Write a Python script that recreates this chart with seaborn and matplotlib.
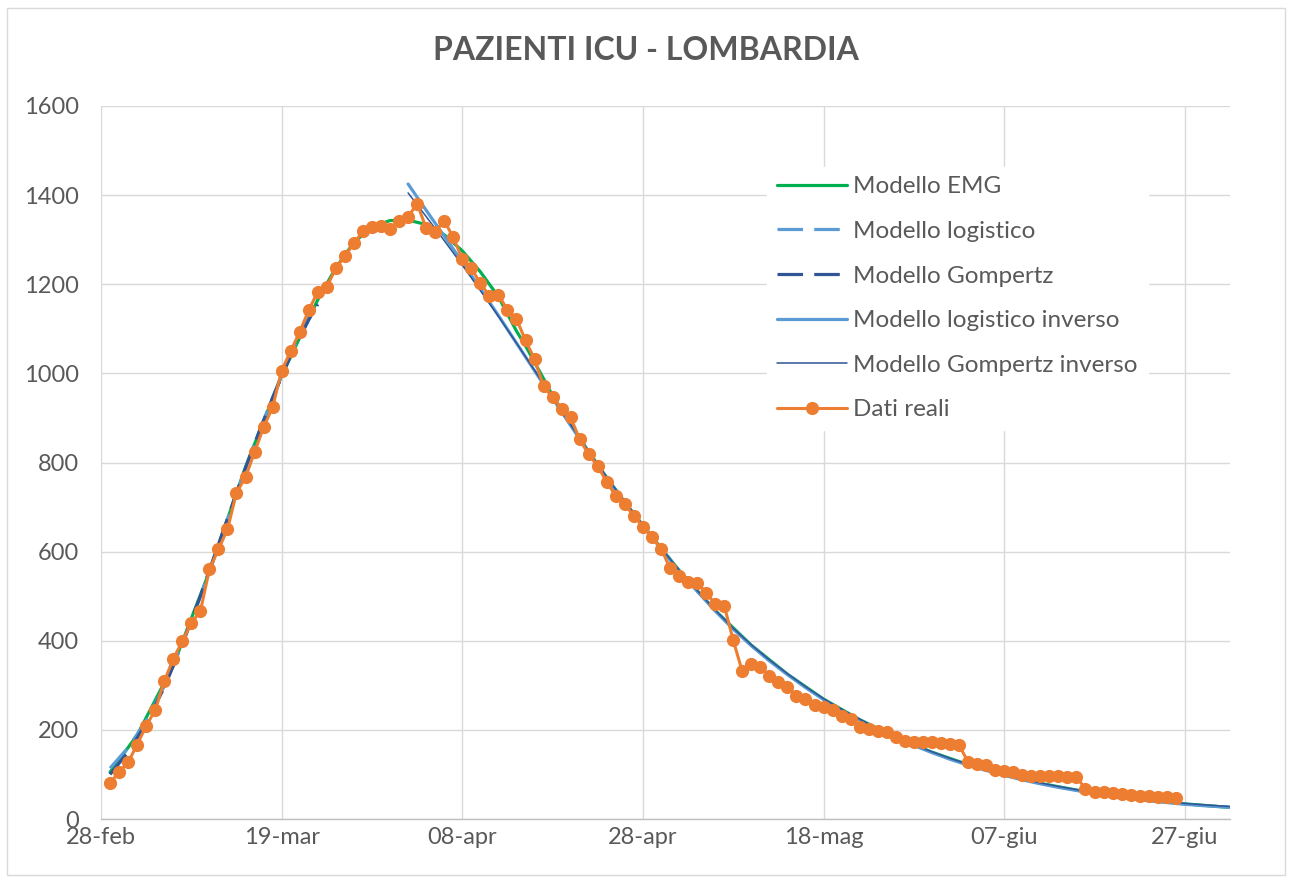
import matplotlib
matplotlib.use("Agg")
import numpy as np
import pandas as pd
import matplotlib.pyplot as plt
import seaborn as sns
from matplotlib.patches import Rectangle

sns.set_style("white")
plt.rcParams.update(
    {
        "font.family": ["Lato", "DejaVu Sans"],
        "font.size": 16,
        "text.color": "#595959",
        "xtick.color": "#595959",
        "ytick.color": "#595959",
        "legend.numpoints": 1,
    }
)

START = pd.Timestamp("2020-02-28")
END_DAY = 125

# real data, one value per day from 29-feb (day 1)
ICU_VALUES = [
    80, 106, 127, 167, 209, 244, 309, 359, 399, 440,
    466, 560, 605, 650, 732, 767, 823, 879, 924, 1006,
    1050, 1093, 1142, 1183, 1194, 1236, 1263, 1292, 1319, 1328,
    1330, 1324, 1342, 1351, 1381, 1326, 1317, 1343, 1305, 1257,
    1236, 1202, 1174, 1176, 1143, 1122, 1074, 1032, 971, 947,
    921, 901, 852, 818, 792, 756, 725, 706, 680, 656,
    633, 607, 563, 545, 532, 530, 508, 482, 479, 401,
    331, 348, 341, 322, 307, 297, 277, 269, 255, 251,
    245, 232, 224, 207, 201, 198, 196, 183, 176, 172,
    172, 173, 171, 168, 166, 128, 124, 121, 111, 107,
    106, 98, 97, 97, 97, 96, 94, 94, 68, 60,
    61, 59, 56, 53, 52, 52, 50, 49, 47,
]

# model curves (day offset from 28-feb, value)
EMG_DAYS = [1, 4, 8, 12, 16, 20, 22, 24, 26, 28, 30, 32, 34, 36, 38, 40, 42, 44,
            46, 47, 48, 49, 50, 52, 54, 56, 58, 60, 64, 68, 72, 76, 80, 84, 88,
            92, 96, 100, 104, 108, 112, 116, 120, 125]
EMG_VALUES = [105, 188, 345, 555, 790, 995, 1080, 1165, 1237, 1294, 1328, 1343,
              1344, 1334, 1311, 1275, 1228, 1172, 1095, 1062, 1025, 988, 950, 885,
              824, 766, 711, 659, 558, 468, 390, 325, 269, 223, 183, 150, 122, 99,
              80, 65, 52, 42, 34, 26]

LOG_DAYS = [1, 3, 5, 7, 9, 11, 13, 15, 17, 19, 21, 23, 24]
LOG_VALUES = [114, 160, 220, 298, 392, 499, 614, 731, 843, 946, 1045, 1125, 1160]

GOMP_DAYS = [1, 3, 5, 7, 9, 11, 13, 15, 17, 19, 21, 23, 24]
GOMP_VALUES = [100, 150, 214, 295, 392, 500, 616, 732, 843, 945, 1040, 1120, 1155]

INV_DAYS = [34, 36, 38, 40, 42, 44, 46, 48, 50, 52, 54, 56, 58, 60, 62, 64, 66,
            68, 70, 72, 74, 76, 78, 80, 82, 84, 86, 88, 90, 92, 94, 96, 98, 100,
            102, 104, 106, 108, 110, 112, 114, 116, 118, 120, 122, 125]
INV_LOG_VALUES = [1425, 1366, 1308, 1250, 1190, 1130, 1068, 1006, 944, 883, 823,
                  765, 710, 658, 606, 557, 511, 467, 426, 389, 355, 324, 295, 268,
                  244, 222, 201, 182, 165, 149, 134, 121, 109, 98, 88, 79, 71, 64,
                  57, 51, 46, 41, 37, 33, 30, 26]
INV_GOMP_VALUES = [1405, 1352, 1298, 1243, 1186, 1128, 1068, 1007, 946, 885, 825,
                   767, 712, 660, 608, 559, 513, 469, 428, 391, 357, 326, 297, 270,
                   246, 224, 203, 184, 167, 151, 136, 123, 111, 100, 90, 81, 73, 66,
                   59, 53, 48, 43, 39, 35, 32, 28]

TICK_DAYS = [0, 20, 40, 60, 80, 100, 120]
TICK_LABELS = ["28-feb", "19-mar", "08-apr", "28-apr", "18-mag", "07-giu", "27-giu"]

TITLE = "PAZIENTI ICU - LOMBARDIA"


def to_dates(days):
    return START + pd.to_timedelta(np.asarray(days), unit="D")


def main():
    fig = plt.figure(figsize=(12.92, 8.81), dpi=100)
    ax = fig.add_axes([101 / 1292, 1 - 819 / 881, 1129 / 1292, 713 / 881])

    dash = (0, (8, 3.5))
    sns.lineplot(x=to_dates(EMG_DAYS), y=EMG_VALUES, ax=ax, color="#00B050",
                 linewidth=2.3, label="Modello EMG")
    sns.lineplot(x=to_dates(LOG_DAYS), y=LOG_VALUES, ax=ax, color="#5B9BD5",
                 linewidth=2.3, linestyle=dash, label="Modello logistico")
    sns.lineplot(x=to_dates(GOMP_DAYS), y=GOMP_VALUES, ax=ax, color="#2F5597",
                 linewidth=2.3, linestyle=dash, label="Modello Gompertz")
    sns.lineplot(x=to_dates(INV_DAYS), y=INV_LOG_VALUES, ax=ax, color="#5B9BD5",
                 linewidth=2.3, label="Modello logistico inverso")
    sns.lineplot(x=to_dates(INV_DAYS), y=INV_GOMP_VALUES, ax=ax, color="#2F5597",
                 linewidth=1.1, label="Modello Gompertz inverso")
    days = np.arange(1, len(ICU_VALUES) + 1)
    sns.lineplot(x=to_dates(days), y=ICU_VALUES, ax=ax, color="#ED7D31",
                 linewidth=2.2, marker="o", markersize=9.5, markeredgewidth=0,
                 label="Dati reali")

    ax.set_xlim(START, START + pd.Timedelta(days=END_DAY))
    ax.set_ylim(0, 1600)
    ax.set_xticks(to_dates(TICK_DAYS))
    ax.set_xticklabels(TICK_LABELS)
    ax.set_yticks(range(0, 1601, 200))
    ax.tick_params(axis="both", length=0, labelsize=17)
    ax.tick_params(axis="y", pad=16)
    ax.tick_params(axis="x", pad=6)
    ax.set_xlabel("")
    ax.set_ylabel("")
    ax.grid(True, color="#D9D9D9", linewidth=1.0)
    ax.set_axisbelow(True)
    for side in ["top", "right", "left"]:
        ax.spines[side].set_visible(False)
    ax.spines["bottom"].set_color("#BFBFBF")
    ax.spines["bottom"].set_linewidth(1.0)

    leg = ax.legend(
        loc="upper left",
        bbox_to_anchor=(0.590, 0.915),
        borderaxespad=0,
        frameon=True,
        facecolor="white",
        edgecolor="white",
        framealpha=1.0,
        fancybox=False,
        fontsize=17.5,
        handlelength=2.9,
        handletextpad=0.25,
        labelspacing=0.97,
        borderpad=0.4,
    )
    for text in leg.get_texts():
        text.set_color("#595959")

    fig.text(0.5, 1 - 50 / 881, TITLE, ha="center", va="center",
             fontsize=23, fontweight="bold", color="#595959")

    fig.patches.append(Rectangle((7 / 1292, 6 / 881), 1278 / 1292, 867 / 881,
                                 transform=fig.transFigure, fill=False,
                                 edgecolor="#D9D9D9", linewidth=1.0))

    fig.savefig("out.png", dpi=100)
    plt.close(fig)


if __name__ == "__main__":
    main()
